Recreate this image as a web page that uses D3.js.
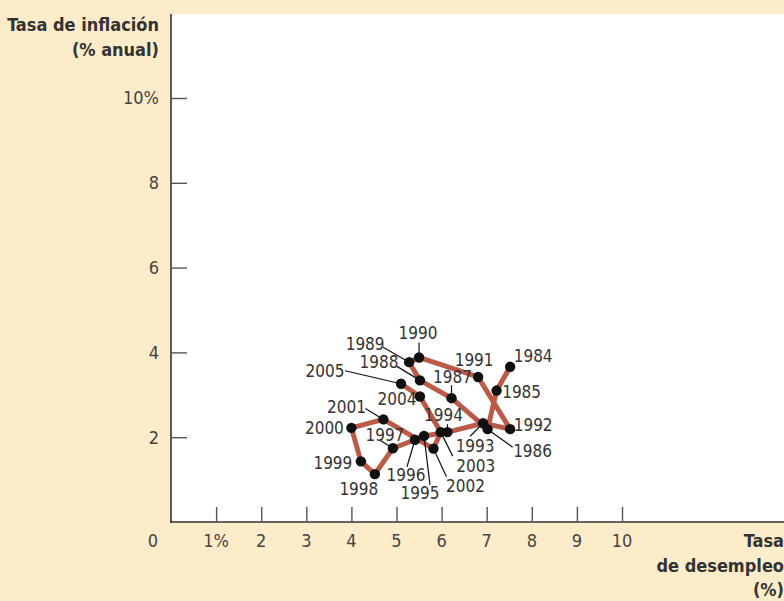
<!DOCTYPE html>
<html><head><meta charset="utf-8">
<script src="https://cdn.jsdelivr.net/npm/d3@7"></script>
<style>
html,body{margin:0;padding:0;background:#fdecc9;}
svg{display:block;}
text{font-family:"Liberation Sans Narrow","DejaVu Sans Condensed","Liberation Sans",sans-serif;}
</style></head>
<body>
<svg id="chart" width="784" height="601"></svg>
<script>
// ---- data ----
const years = [1984,1985,1986,1987,1988,1989,1990,1991,1992,1993,1994,1995,1996,1997,1998,1999,2000,2001,2002,2003,2004,2005];
const unemployment = [7.52,7.22,7.02,6.22,5.52,5.28,5.50,6.81,7.52,6.92,6.13,5.61,5.41,4.92,4.52,4.21,4.00,4.71,5.82,5.98,5.52,5.10];
const inflation = [3.66,3.10,2.19,2.92,3.34,3.77,3.88,3.42,2.19,2.33,2.12,2.03,1.94,1.74,1.13,1.43,2.22,2.42,1.73,2.12,2.96,3.26];
const xTicks = [1,2,3,4,5,6,7,8,9,10];
const xTickLabels = ["1%","2","3","4","5","6","7","8","9","10"];
const yTicks = [2,4,6,8,10];
const yTickLabels = ["2","4","6","8","10%"];

// ---- label placement (pixel offsets from each point) ----
const labelLayout = {
  1984:{dx:23,dy:-11}, 1985:{dx:25,dy:1},
  1986:{dx:45,dy:22,lx:25,ly:18}, 1987:{dx:1,dy:-21,lx:0,ly:-13},
  1988:{dx:-41,dy:-18,lx:-23,ly:-14}, 1989:{dx:-44,dy:-18,lx:-26,ly:-15},
  1990:{dx:-1,dy:-24,lx:0,ly:-15}, 1991:{dx:-4,dy:-17},
  1992:{dx:23,dy:-4}, 1993:{dx:-8,dy:23,lx:-13,ly:13},
  1994:{dx:-4,dy:-17,lx:0,ly:-8}, 1995:{dx:-4,dy:57,lx:6,ly:49},
  1996:{dx:-9,dy:35,lx:-8,ly:27}, 1997:{dx:-8,dy:-13,lx:-13,ly:-8},
  1998:{dx:-16,dy:15}, 1999:{dx:-28,dy:2}, 2000:{dx:-27,dy:0},
  2001:{dx:-37,dy:-12,lx:-18,ly:-11}, 2002:{dx:32,dy:37,lx:13,ly:28},
  2003:{dx:35,dy:34,lx:12,ly:24}, 2004:{dx:-23,dy:3,lx:-7,ly:1},
  2005:{dx:-76,dy:-13,lx:-56,ly:-13}
};

const points = years.map((yr,i)=>({year:yr,u:unemployment[i],inf:inflation[i]}));

const svg = d3.select("#chart");
const plotLeft=171, plotTop=14, plotRight=784, plotBottom=522;

const x = d3.scaleLinear().domain([0,1]).range([plotLeft,plotLeft+45.1]);
const y = d3.scaleLinear().domain([0,1]).range([plotBottom,plotBottom-42.4]);

// plot area
svg.append("rect").attr("x",plotLeft).attr("y",plotTop).attr("width",plotRight-plotLeft).attr("height",plotBottom-plotTop).attr("fill","#ffffff");

// axes lines
svg.append("line").attr("x1",plotLeft).attr("x2",plotLeft).attr("y1",plotTop).attr("y2",plotBottom+1).attr("stroke","#333").attr("stroke-width",1.6);
svg.append("line").attr("x1",plotLeft-1).attr("x2",plotRight).attr("y1",plotBottom).attr("y2",plotBottom).attr("stroke","#333").attr("stroke-width",1.6);

// x ticks (inside)
const xAxis = d3.axisTop(x).tickValues(xTicks).tickSize(15).tickFormat("");
const gx = svg.append("g").attr("transform",`translate(0,${plotBottom})`).call(xAxis);
gx.select(".domain").remove();
gx.selectAll("line").attr("stroke","#555").attr("stroke-width",1.4);
svg.append("g").selectAll("text").data(xTicks).join("text")
  .attr("x",d=>x(d)).attr("y",547).attr("text-anchor","middle")
  .attr("font-size",18).attr("fill","#444").text((d,i)=>xTickLabels[i]);
svg.append("text").attr("x",153).attr("y",547).attr("text-anchor","middle").attr("font-size",18).attr("fill","#444").text("0");

// y ticks (inside)
const yAxis = d3.axisRight(y).tickValues(yTicks).tickSize(16).tickFormat("");
const gy = svg.append("g").attr("transform",`translate(${plotLeft},0)`).call(yAxis);
gy.select(".domain").remove();
gy.selectAll("line").attr("stroke","#555").attr("stroke-width",1.4);
svg.append("g").selectAll("text").data(yTicks).join("text")
  .attr("x",159).attr("y",d=>y(d)).attr("dy","0.35em").attr("text-anchor","end")
  .attr("font-size",18).attr("fill","#444").text((d,i)=>yTickLabels[i]);

// axis titles
const yt = svg.append("text").attr("text-anchor","end").attr("font-size",18).attr("font-weight","bold").attr("fill","#333");
yt.append("tspan").attr("x",159).attr("y",31).text("Tasa de inflación");
yt.append("tspan").attr("x",159).attr("y",56).text("(% anual)");
const xt = svg.append("text").attr("text-anchor","end").attr("font-size",18).attr("font-weight","bold").attr("fill","#333");
xt.append("tspan").attr("x",784).attr("y",547).text("Tasa");
xt.append("tspan").attr("x",784).attr("y",572).text("de desempleo");
xt.append("tspan").attr("x",784).attr("y",596).text("(%)");

// path
const line = d3.line().x(d=>x(d.u)).y(d=>y(d.inf));
svg.append("path").datum(points).attr("d",line).attr("fill","none")
  .attr("stroke","#bb5b47").attr("stroke-width",5).attr("stroke-linejoin","round").attr("stroke-linecap","round");

// leader lines
svg.append("g").selectAll("line").data(points.filter(p=>labelLayout[p.year].lx!==undefined)).join("line")
  .attr("x1",d=>x(d.u)).attr("y1",d=>y(d.inf))
  .attr("x2",d=>x(d.u)+labelLayout[d.year].lx).attr("y2",d=>y(d.inf)+labelLayout[d.year].ly)
  .attr("stroke","#111").attr("stroke-width",1.2);

// dots
svg.append("g").selectAll("circle").data(points).join("circle")
  .attr("cx",d=>x(d.u)).attr("cy",d=>y(d.inf)).attr("r",5.2).attr("fill","#111");

// labels
svg.append("g").selectAll("text").data(points).join("text")
  .attr("x",d=>x(d.u)+labelLayout[d.year].dx).attr("y",d=>y(d.inf)+labelLayout[d.year].dy)
  .attr("dy","0.35em").attr("text-anchor","middle").attr("font-size",17).attr("fill","#333")
  .text(d=>d.year);
</script>
</body></html>
